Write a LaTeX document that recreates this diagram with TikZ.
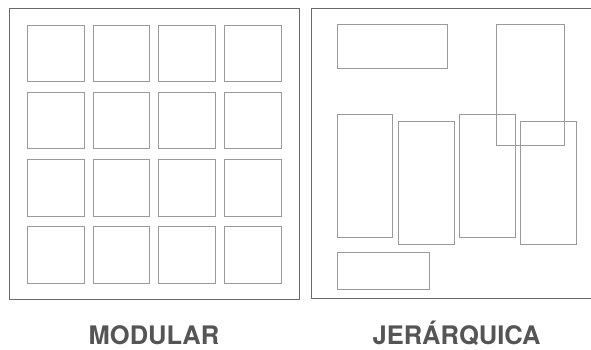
\documentclass[tikz,border=0pt]{standalone}
\usepackage{fontspec}
\setmainfont{TeX Gyre Heros}
\definecolor{framegray}{HTML}{6A6A6A}
\definecolor{boxgray}{HTML}{9A9A9A}
\definecolor{labelgray}{HTML}{555555}
\begin{document}
\begin{tikzpicture}[x=1pt,y=-1pt,
  frame/.style={draw=framegray,line width=1pt},
  cell/.style={draw=boxgray,line width=0.8pt},
  lbl/.style={text=labelgray,font=\fontsize{25.5}{25.5}\selectfont\bfseries,anchor=base,inner sep=0pt,text depth=0pt}]
\useasboundingbox (0,0) rectangle (591,350);
\fill[white] (0,0) rectangle (591,350);
% left panel
\draw[frame] (9,9) rectangle (299,299);
\foreach \x in {27.3,93,158.7,224.7}{
  \foreach \y in {25.3,92.3,159.7,226.7}{
    \draw[cell] (\x,\y) rectangle ++(56.6,56.4);
  }
}
% right panel (its right side runs off the picture)
\draw[frame] (591,9) -- (311.7,9) -- (311.7,298.5) -- (591,298.5);
\draw[cell] (337,24.3) rectangle (447,68.3);
\draw[cell] (496.7,24.3) rectangle (564.7,145);
\draw[cell] (337,114.3) rectangle (392.7,237.7);
\draw[cell] (398,121.7) rectangle (454,244.3);
\draw[cell] (459.3,114.3) rectangle (515.3,237.7);
\draw[cell] (520,121.7) rectangle (576,244.3);
\draw[cell] (337,252.3) rectangle (429,289.3);
% labels
\node[lbl] (modular) at (154,344) {MODULAR};
\node[lbl] (jerarquica) at (456.5,344) {JERÁRQUICA};
\end{tikzpicture}
\end{document}
